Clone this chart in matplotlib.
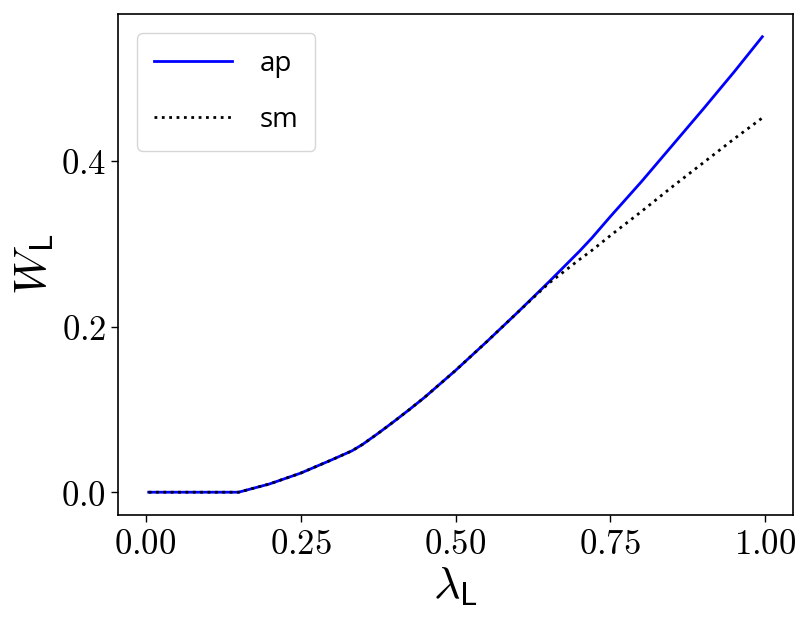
import matplotlib
matplotlib.use("Agg")
import matplotlib.pyplot as plt
from matplotlib.ticker import FuncFormatter

plt.rcParams['mathtext.fontset'] = 'cm'

lam = [0.005, 0.05, 0.10, 0.15, 0.20, 0.25, 0.30, 0.333, 0.35, 0.375, 0.40, 0.425,
       0.45, 0.50, 0.55, 0.60, 0.65, 0.70, 0.72, 0.75, 0.80, 0.85, 0.90, 0.95, 0.995]
ap = [0.0, 0.0, 0.0, 0.0, 0.010, 0.023, 0.039, 0.050, 0.0577, 0.071, 0.085, 0.0995,
      0.1145, 0.147, 0.1815, 0.217, 0.2535, 0.291, 0.307, 0.333, 0.375, 0.419, 0.463,
      0.508, 0.550]
sm = [0.0, 0.0, 0.0, 0.0, 0.010, 0.023, 0.039, 0.050, 0.0577, 0.071, 0.085, 0.0995,
      0.1145, 0.147, 0.1815, 0.217, 0.252, 0.281, 0.292, 0.310, 0.339, 0.369, 0.398,
      0.427, 0.452]

xticks = [0.0, 0.25, 0.5, 0.75, 1.0]
yticks = [0.0, 0.2, 0.4]

fig = plt.figure(figsize=(8.1, 6.24), dpi=100)
ax = fig.add_axes([0.1457, 0.1747, 0.979 - 0.1457, 0.9776 - 0.1747])

ax.plot(lam, ap, color='blue', lw=2.0, label='ap')
ax.plot(lam, sm, color='black', lw=2.0, ls=':', label='sm')

ax.set_xticks(xticks)
ax.set_yticks(yticks)
ax.xaxis.set_major_formatter(FuncFormatter(lambda v, p: r'$%.2f$' % v))
ax.yaxis.set_major_formatter(FuncFormatter(lambda v, p: r'$%.1f$' % v))
ax.tick_params(labelsize=25, width=1.0, length=5)
for s in ax.spines.values():
    s.set_linewidth(1.2)

ax.set_xlabel(r'$\lambda_\mathsf{L}$', fontsize=33, labelpad=2)
ax.set_ylabel(r'$W_\mathsf{L}$', fontsize=33, labelpad=3)

leg = ax.legend(loc='upper left', prop={'family': 'Open Sans', 'size': 20},
                handlelength=2.8, borderpad=0.6, labelspacing=1.0,
                handletextpad=1.0, borderaxespad=0.7)

fig.savefig('out.png', dpi=100)
